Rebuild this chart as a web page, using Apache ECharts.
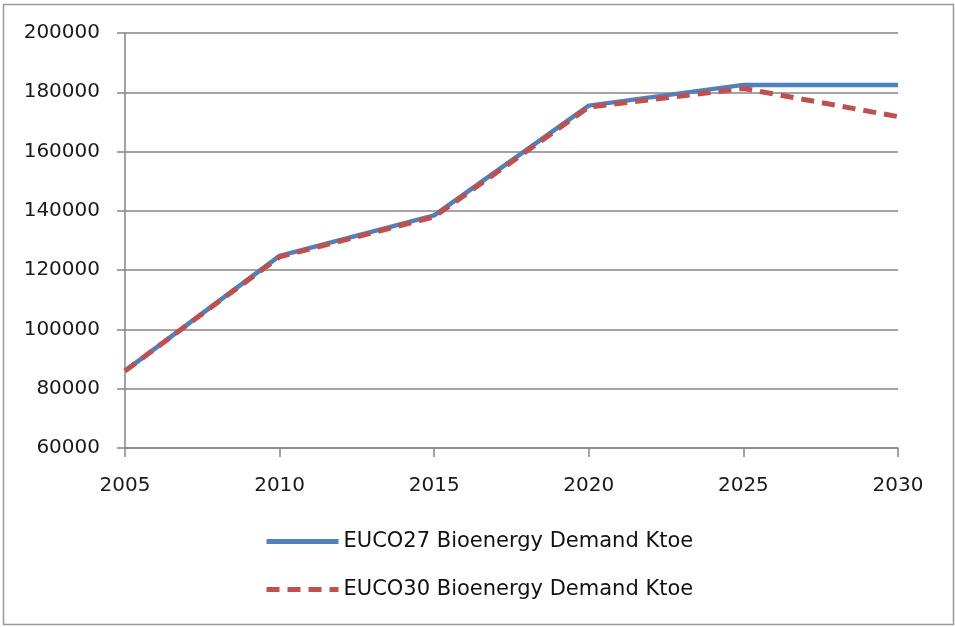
<!DOCTYPE html>
<html>
<head>
<meta charset="utf-8">
<script src="https://cdn.jsdelivr.net/npm/echarts@6/dist/echarts.min.js"></script>
<style>
  html, body { margin: 0; padding: 0; background: #fff; }
  #main { width: 955px; height: 627px; }
</style>
</head>
<body>
<div id="main"></div>
<script>
// data
var years = ["2005", "2010", "2015", "2020", "2025", "2030"];
var euco27 = [86000, 124800, 138500, 175500, 182500, 182500];
var euco30 = [86000, 124500, 138000, 175000, 181300, 171800];
var name27 = "EUCO27 Bioenergy Demand Ktoe";
var name30 = "EUCO30 Bioenergy Demand Ktoe";

var myChart = echarts.init(document.getElementById("main"));
var axisGray = "#868686";
var textStyle = { fontFamily: "DejaVu Sans", fontSize: 20, color: "#1a1a1a" };

var option = {
  animation: false,
  backgroundColor: "#fff",
  graphic: [
    {
      type: "rect",
      shape: { x: 3.5, y: 4.5, width: 950, height: 620 },
      style: { fill: "none", stroke: "#999", lineWidth: 1.5 }
    }
  ],
  grid: { left: 125, right: 57, top: 33, bottom: 179 },
  legend: {
    orient: "vertical",
    left: 259,
    top: 526,
    itemWidth: 72,
    itemHeight: 20,
    itemGap: 27,
    itemStyle: { opacity: 0 },
    textStyle: { fontFamily: "DejaVu Sans", fontSize: 21, color: "#111" },
    data: [
      { name: name27, lineStyle: { width: 5 } },
      { name: name30, lineStyle: { width: 5 } }
    ]
  },
  xAxis: {
    type: "category",
    data: years,
    boundaryGap: false,
    axisLine: { lineStyle: { color: axisGray, width: 1.5 } },
    axisTick: { show: true, length: 9, lineStyle: { color: axisGray, width: 1.5 } },
    axisLabel: Object.assign({ margin: 28 }, textStyle)
  },
  yAxis: {
    type: "value",
    min: 60000,
    max: 200000,
    interval: 20000,
    axisLine: { show: true, lineStyle: { color: axisGray, width: 1.5 } },
    axisTick: { show: true, length: 8, lineStyle: { color: axisGray, width: 1.5 } },
    axisLabel: Object.assign({
      margin: 25,
      formatter: function (v) { return String(v); }
    }, textStyle),
    splitLine: { lineStyle: { color: axisGray, width: 1.5 } }
  },
  series: [
    {
      name: name27,
      type: "line",
      data: euco27,
      symbol: "none",
      itemStyle: { color: "#4F81BD" },
      lineStyle: { color: "#4F81BD", width: 4.5 },
      z: 2
    },
    {
      name: name30,
      type: "line",
      data: euco30,
      symbol: "none",
      itemStyle: { color: "#C0504D" },
      lineStyle: { color: "#C0504D", width: 5, type: [13, 8] },
      z: 3
    }
  ]
};

myChart.setOption(option);
</script>
</body>
</html>
